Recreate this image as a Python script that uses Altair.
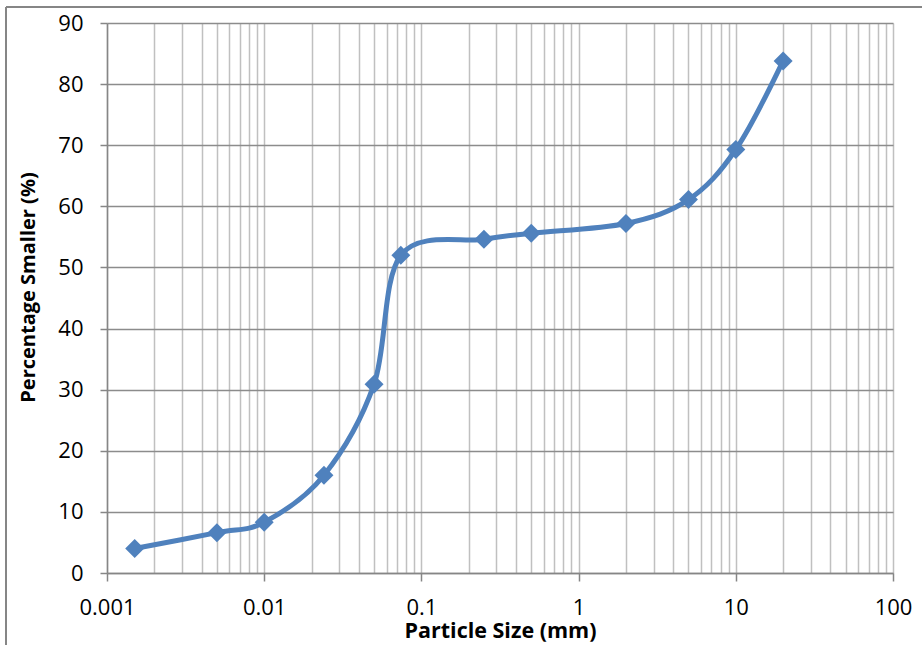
import altair as alt
import pandas as pd

# Grain-size distribution
particle_size_mm = [0.0015, 0.005, 0.01, 0.024, 0.05, 0.074, 0.25, 0.5, 2, 5, 10, 20]
percent_smaller = [4.0, 6.6, 8.3, 16.0, 30.9, 52.0, 54.6, 55.6, 57.2, 61.1, 69.3, 83.8]

# Log-axis grid positions: 1..9 times each decade from 0.001 to 100
decades = [0.001, 0.01, 0.1, 1, 10]
x_grid_values = [round(m * d, 6) for d in decades for m in range(1, 10)] + [100]
y_tick_values = [0, 10, 20, 30, 40, 50, 60, 70, 80, 90]

FONT = "Open Sans"
BLUE = "#4F81BD"
AXIS_GRAY = "#868686"

df = pd.DataFrame({"size": particle_size_mm, "pct": percent_smaller})

is_decade = "abs(log(datum.value)/LN10 - round(log(datum.value)/LN10)) < 1e-6"

x_enc = alt.X(
    "size:Q",
    scale=alt.Scale(type="log", domain=[0.001, 100], nice=False),
    axis=alt.Axis(
        values=x_grid_values,
        format="~g",
        labelExpr=f"({is_decade}) ? datum.label : ''",
        grid=True,
        gridColor="#c0c0c0",
        gridWidth=1.5,
        domainColor=AXIS_GRAY,
        domainWidth=1.5,
        tickColor=AXIS_GRAY,
        tickWidth=1.5,
        tickSize=8,
        tickOpacity={"condition": {"test": is_decade, "value": 1}, "value": 0},
        labelFont=FONT,
        labelFontSize=22,
        labelColor="#000000",
        labelPadding=16,
        labelFlush=False,
        labelOverlap=False,
        title="Particle Size (mm)",
        titleFont=FONT,
        titleFontSize=21.5,
        titleFontWeight="bold",
        titleColor="#000000",
        titleX=393,
        titleY=64,
        titleAlign="center",
        titleBaseline="alphabetic",
    ),
)

y_enc = alt.Y(
    "pct:Q",
    scale=alt.Scale(domain=[0, 90], nice=False),
    axis=alt.Axis(
        values=y_tick_values,
        grid=True,
        gridColor="#8c8c8c",
        gridWidth=1.5,
        domainColor=AXIS_GRAY,
        domainWidth=1.5,
        tickColor=AXIS_GRAY,
        tickWidth=1.5,
        tickSize=7,
        labelFont=FONT,
        labelFontSize=22,
        labelColor="#000000",
        labelPadding=17,
        title="Percentage Smaller (%)",
        titleFont=FONT,
        titleFontSize=20,
        titleFontWeight="bold",
        titleColor="#000000",
        titleAngle=270,
        titleX=-79,
        titleY=264,
        titleAlign="center",
        titleBaseline="middle",
    ),
)

base = alt.Chart(df)

curve = base.mark_line(
    color=BLUE, strokeWidth=5, interpolate="cardinal"
).encode(x=x_enc, y=y_enc)

markers = base.mark_point(
    shape="diamond", filled=True, size=360, color=BLUE, opacity=1
).encode(x="size:Q", y="pct:Q")

# Outer chart-area frame (left and top edges)
frame_left = alt.Chart(df).mark_rule(color=AXIS_GRAY, strokeWidth=2).encode(
    x=alt.value(-101), y=alt.value(-16), y2=alt.value(700)
)
frame_top = alt.Chart(df).mark_rule(color=AXIS_GRAY, strokeWidth=2).encode(
    x=alt.value(-101), x2=alt.value(900), y=alt.value(-16)
)

chart = (
    alt.layer(curve, markers, frame_left, frame_top)
    .properties(
        width=786,
        height=550,
        autosize=alt.AutoSizeParams(type="none"),
        padding={"left": 107, "top": 23, "right": 29, "bottom": 72},
        background="#ffffff",
    )
    .configure_view(stroke=None)
)

chart.save("out.html", embed_options={"renderer": "svg", "actions": False})
